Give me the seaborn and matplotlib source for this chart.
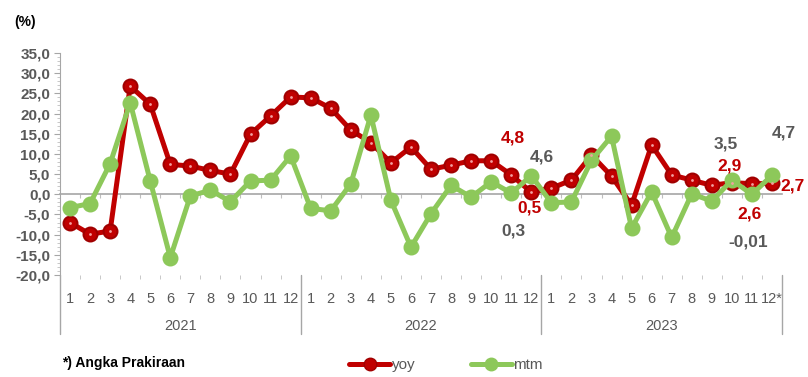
import matplotlib
matplotlib.use("Agg")
import matplotlib.pyplot as plt
from matplotlib.lines import Line2D
from matplotlib.ticker import MultipleLocator
import numpy as np
import pandas as pd
import seaborn as sns

# data
years = ["2021", "2022", "2023"]
months = ["1", "2", "3", "4", "5", "6", "7", "8", "9", "10", "11", "12"]
month_labels = months * 2 + months[:-1] + ["12*"]

yoy = [-7.0, -9.9, -9.1, 26.8, 22.3, 7.4, 7.0, 5.9, 5.0, 14.9, 19.4, 24.1,
       23.9, 21.3, 15.9, 12.8, 7.8, 11.7, 6.2, 7.2, 8.3, 8.3, 4.8, 0.5,
       1.5, 3.5, 9.7, 4.5, -2.7, 12.2, 4.8, 3.5, 2.2, 2.9, 2.6, 2.7]
mtm = [-3.3, -2.3, 7.6, 22.7, 3.3, -15.7, -0.4, 1.0, -1.8, 3.3, 3.5, 9.5,
       -3.5, -4.1, 2.6, 19.6, -1.5, -13.1, -4.8, 2.2, -0.7, 3.1, 0.3, 4.6,
       -2.1, -1.9, 8.4, 14.4, -8.4, 0.6, -10.7, 0.1, -1.7, 3.5, -0.01, 4.7]

# value labels: (text, x index, y position, series)
label_text = ["4,8", "0,5", "4,6", "0,3", "2,9", "2,6", "2,7", "3,5", "-0,01", "4,7"]
label_x = [22.1, 22.9, 23.5, 22.1, 32.9, 33.9, 36.0, 32.7, 33.8, 35.6]
label_y = [14.0, -3.3, 9.3, -9.1, 7.0, -4.9, 2.0, 12.5, -11.8, 15.2]
label_series = ["yoy", "yoy", "mtm", "mtm", "yoy", "yoy", "yoy", "mtm", "mtm", "mtm"]

RED = "#C00000"
RED_EDGE = "#A00000"
GREEN = "#8DC85A"
GRAY = "#595959"

df = pd.DataFrame({"idx": np.arange(len(yoy)), "yoy": yoy, "mtm": mtm})

sns.set_style("white")
plt.rcParams["font.family"] = ["Liberation Sans", "DejaVu Sans"]

fig = plt.figure(figsize=(8.08, 3.77), dpi=100)
ax = fig.add_axes([60 / 808, 102 / 377, 722 / 808, 222 / 377])

sns.lineplot(data=df, x="idx", y="yoy", ax=ax, color=RED, linewidth=3.6,
             marker="o", markersize=10, markeredgecolor=RED_EDGE,
             markeredgewidth=1.5, zorder=3)
sns.lineplot(data=df, x="idx", y="mtm", ax=ax, color=GREEN, linewidth=3.6,
             marker="o", markersize=10, markeredgecolor=GREEN,
             markeredgewidth=1.5, zorder=4)
# small light centre dot on the yoy markers
ax.scatter(df["idx"], df["yoy"], s=4, color="#F2A0A0", zorder=5, linewidths=0)

ax.set_xlim(-0.5, len(yoy) - 0.5)
ax.set_ylim(-20, 35)
ax.set_xlabel("")
ax.set_ylabel("")

# y axis
ax.set_yticks(np.arange(-20, 36, 5))
ax.set_yticklabels([f"{v:.1f}".replace(".", ",") for v in np.arange(-20, 36, 5)],
                   fontsize=11, fontweight="bold", color=GRAY)
ax.yaxis.set_minor_locator(MultipleLocator(1))
ax.tick_params(axis="y", which="major", length=4, color="#A6A6A6", pad=3, left=True)
ax.tick_params(axis="y", which="minor", length=2, color="#BFBFBF", left=True)

# x axis: month labels below the plot
ax.set_xticks(df["idx"])
ax.set_xticklabels(month_labels, fontsize=10.5, color=GRAY)
ax.tick_params(axis="x", which="major", length=0, pad=12)
ax.set_xticks(np.arange(0.5, len(yoy) - 1, 1), minor=True)
ax.tick_params(axis="x", which="minor", length=3, color="#BFBFBF", bottom=True)

for s in ["top", "right", "bottom"]:
    ax.spines[s].set_visible(False)
ax.spines["left"].set_color("#A6A6A6")

# zero line with small category ticks
zero_ax = ax.secondary_xaxis(20 / 55)
zero_ax.spines["bottom"].set_color("#A6A6A6")
zero_ax.spines["bottom"].set_linewidth(1.2)
zero_ax.set_xticks(np.arange(0.5, len(yoy) - 1, 1))
zero_ax.set_xticklabels([])
zero_ax.tick_params(length=3, color="#BFBFBF")

# year groups and separators
trans = ax.get_xaxis_transform()
for i, yr in enumerate(years):
    ax.text(i * 12 + 5.5, -0.23, yr, transform=trans, ha="center", va="center",
            fontsize=10.5, color=GRAY)
for b in range(len(years) + 1):
    ax.plot([b * 12 - 0.5] * 2, [0, -0.265], transform=trans, color="#A6A6A6",
            linewidth=1, clip_on=False)

# value labels
for t, x, y, s in zip(label_text, label_x, label_y, label_series):
    ax.text(x, y, t, ha="center", va="center", fontsize=12.5, fontweight="bold",
            color=RED if s == "yoy" else GRAY, clip_on=False, zorder=6)

fig.text(25 / 808, 1 - 22 / 377, "(%)", ha="center", va="center", fontsize=10,
         fontweight="bold", color="black")
fig.text(62 / 808, 1 - 363 / 377, "*) Angka Prakiraan", ha="left", va="center",
         fontsize=10, fontweight="bold", color="black")

handles = [
    Line2D([], [], color=RED, linewidth=3.6, marker="o", markersize=9,
           markeredgecolor=RED_EDGE),
    Line2D([], [], color=GREEN, linewidth=3.6, marker="o", markersize=9,
           markeredgecolor=GREEN),
]
leg = fig.legend(handles, ["yoy", "mtm"], loc="center", ncol=2,
                 bbox_to_anchor=(446 / 808, 1 - 365 / 377), frameon=False,
                 handlelength=2.7, handletextpad=0.1, columnspacing=3.6,
                 fontsize=11)
for txt in leg.get_texts():
    txt.set_color(GRAY)

fig.savefig("out.png", dpi=100)
